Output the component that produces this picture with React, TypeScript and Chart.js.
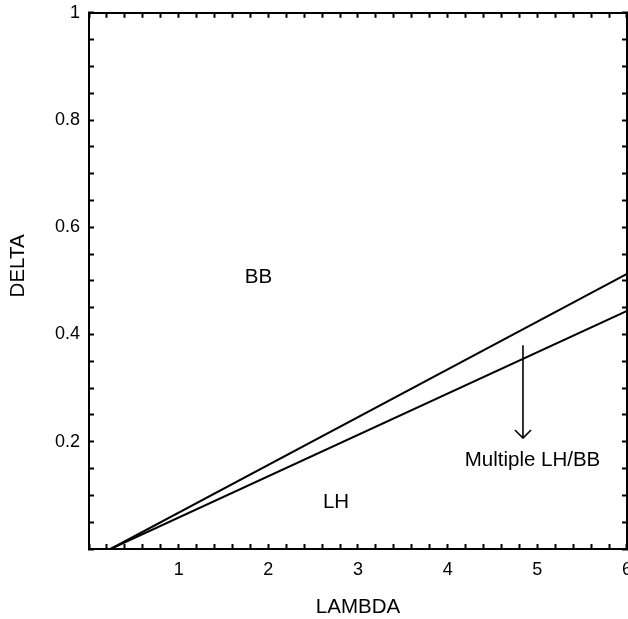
import React, { useEffect, useRef } from "react";
import { Chart, registerables } from "chart.js";

Chart.register(...registerables);

// ---- data ----
const boundaryLambda = [0.24, 6];
const upperDelta = [0, 0.513];
const lowerDelta = [0, 0.444];

const arrowShaftLambda = [4.84, 4.84];
const arrowShaftDelta = [0.38, 0.207];
const arrowHeadLambda = [4.75, 4.84, 4.93];
const arrowHeadDelta = [0.222, 0.207, 0.222];

const regionLabels = ["BB", "LH", "Multiple LH/BB"];
const regionLambda = [1.89, 2.755, 4.946];
const regionDelta = [0.509, 0.091, 0.168];

const xTitle = "LAMBDA";
const yTitle = "DELTA";
const xMin = 0, xMax = 6, xStep = 0.2;
const yMin = 0, yMax = 1, yStep = 0.05;

const FONT = "'Liberation Sans', Arial, Helvetica, sans-serif";

const CANVAS_W = 647;
const CANVAS_H = 631;
const CANVAS_TOP = -12;

const pts = (xs: number[], ys: number[]) => xs.map((x, i) => ({ x, y: ys[i] }));

const xLabel = (v: number) => {
  const r = Math.round(v);
  return Math.abs(v - r) < 1e-6 && r !== 0 ? String(r) : "";
};
const yLabel = (v: number) => {
  const k = Math.round(v * 5);
  if (Math.abs(v * 5 - k) < 1e-6 && k !== 0) return k === 5 ? "1" : (k / 5).toFixed(1);
  return "";
};

const textPlugin = {
  id: "textPlugin",
  afterDraw(chart: any) {
    const { ctx, chartArea, scales } = chart;
    const size = 20.5;
    ctx.save();
    ctx.fillStyle = "#000";
    ctx.font = `${size}px ${FONT}`;
    ctx.textAlign = "center";
    ctx.textBaseline = "alphabetic";
    regionLabels.forEach((t, i) => {
      const px = scales.x.getPixelForValue(regionLambda[i]);
      const py = scales.y.getPixelForValue(regionDelta[i]);
      ctx.fillText(t, px, py + 0.358 * size);
    });
    // axis titles
    const cx = (chartArea.left + chartArea.right) / 2;
    ctx.fillText(xTitle, cx, chartArea.bottom + 57 + 0.358 * size);
    const cy = (chartArea.top + chartArea.bottom) / 2 - 15;
    ctx.translate(17, cy);
    ctx.rotate(-Math.PI / 2);
    ctx.fillText(yTitle, 0, 0.358 * size);
    ctx.restore();
  },
};

const gridOpts = {
  drawOnChartArea: false,
  drawTicks: true,
  tickLength: -5,
  tickColor: "#000",
  tickWidth: 2,
};
const borderOpts = { display: true, color: "#000", width: 2 };

export default function App() {
  const ref = useRef<HTMLCanvasElement | null>(null);
  useEffect(() => {
    if (!ref.current) return;
    const lineDs = (data: any[], w: number) => ({
      data,
      borderColor: "#000",
      borderWidth: w,
      pointRadius: 0,
      fill: false,
      tension: 0,
      xAxisID: "x",
      yAxisID: "y",
    });
    const chart = new Chart(ref.current, {
      type: "line",
      data: {
        datasets: [
          lineDs(pts(boundaryLambda, upperDelta), 2),
          lineDs(pts(boundaryLambda, lowerDelta), 2),
          lineDs(pts(arrowShaftLambda, arrowShaftDelta), 1.6),
          lineDs(pts(arrowHeadLambda, arrowHeadDelta), 1.6),
        ] as any,
      },
      options: {
        animation: false,
        responsive: false,
        events: [],
        layout: { padding: 0 },
        plugins: { legend: { display: false }, tooltip: { enabled: false } },
        scales: {
          x: {
            type: "linear",
            position: "bottom",
            min: xMin,
            max: xMax,
            ticks: {
              stepSize: xStep,
              autoSkip: false,
              maxRotation: 0,
              padding: 15,
              color: "#000",
              font: { family: FONT, size: 18 },
              callback: (v: any) => xLabel(Number(v)),
            },
            grid: gridOpts,
            border: borderOpts,
            afterFit: (s: any) => { s.height = 70; },
          },
          x2: {
            type: "linear",
            position: "top",
            min: xMin,
            max: xMax,
            ticks: { stepSize: xStep, autoSkip: false, display: false },
            grid: gridOpts,
            border: borderOpts,
            afterFit: (s: any) => { s.height = 13; },
          },
          y: {
            type: "linear",
            position: "left",
            min: yMin,
            max: yMax,
            ticks: {
              stepSize: yStep,
              autoSkip: false,
              padding: 14,
              color: "#000",
              font: { family: FONT, size: 18 },
              callback: (v: any) => yLabel(Number(v)),
            },
            grid: gridOpts,
            border: borderOpts,
            afterFit: (s: any) => { s.width = 89; },
          },
          y2: {
            type: "linear",
            position: "right",
            min: yMin,
            max: yMax,
            ticks: { stepSize: yStep, autoSkip: false, display: false },
            grid: gridOpts,
            border: borderOpts,
            afterFit: (s: any) => { s.width = 13; },
          },
        },
      } as any,
      plugins: [textPlugin],
    });
    return () => chart.destroy();
  }, []);
  return (
    <div style={{ position: "fixed", left: 0, top: CANVAS_TOP, width: CANVAS_W, height: CANVAS_H, background: "#fff" }}>
      <canvas ref={ref} width={CANVAS_W} height={CANVAS_H} style={{ display: "block", width: CANVAS_W, height: CANVAS_H }} />
    </div>
  );
}
